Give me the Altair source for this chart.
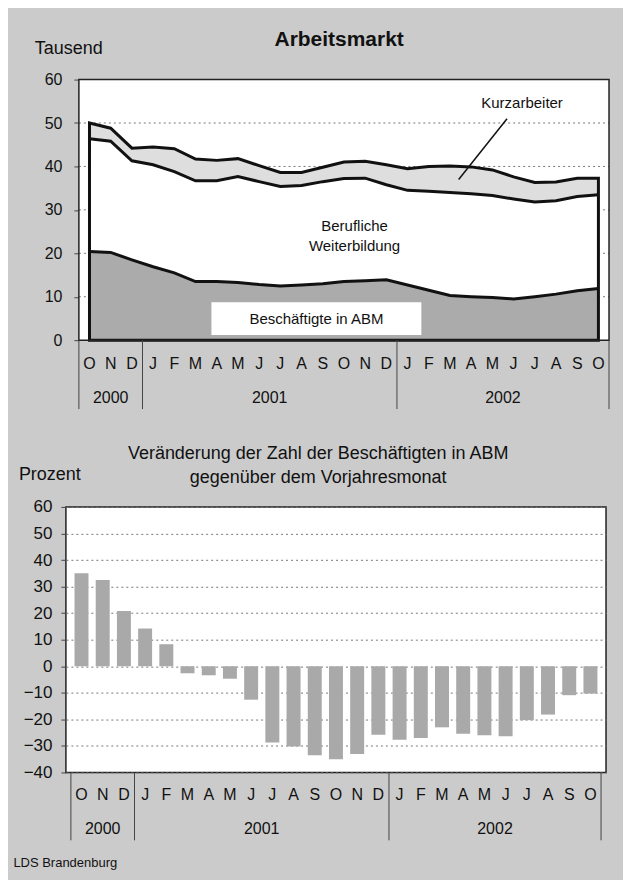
import altair as alt
import pandas as pd

# ---------------- data ----------------
months = ["O", "N", "D", "J", "F", "M", "A", "M", "J", "J", "A", "S",
          "O", "N", "D", "J", "F", "M", "A", "M", "J", "J", "A", "S", "O"]
years = ["2000", "2001", "2002"]
months_per_year = [3, 12, 10]

# Tausend
abm = [20.4, 20.2, 18.5, 16.9, 15.5, 13.5, 13.5, 13.3, 12.8, 12.5, 12.7, 13.0,
       13.5, 13.7, 13.9, 12.7, 11.5, 10.3, 10.0, 9.8, 9.5, 10.0, 10.6, 11.4, 11.9]
weiterbildung = [26.0, 25.6, 22.8, 23.5, 23.3, 23.2, 23.2, 24.4, 23.7, 22.9, 22.9, 23.5,
                 23.7, 23.6, 21.9, 21.8, 22.8, 23.7, 23.7, 23.5, 23.0, 21.8, 21.5, 21.7, 21.6]
kurzarbeiter = [3.6, 3.0, 2.9, 4.1, 5.3, 5.0, 4.7, 4.1, 3.7, 3.2, 3.0, 3.3,
                3.8, 3.9, 4.6, 5.0, 5.7, 6.1, 6.2, 5.9, 5.1, 4.5, 4.3, 4.2, 3.8]

# Prozent gegenüber Vorjahresmonat
abm_change = [35.0, 32.5, 20.8, 14.2, 8.3, -2.6, -3.4, -4.7, -12.6, -28.7, -30.2, -33.5,
              -35.0, -33.0, -25.8, -27.7, -27.0, -23.0, -25.4, -26.0, -26.4, -20.3, -18.2, -10.9, -10.3]

top_ticks = [0, 10, 20, 30, 40, 50, 60]
bottom_ticks = [-40, -30, -20, -10, 0, 10, 20, 30, 40, 50, 60]

# ---------------- tables ----------------
idx = list(range(len(months)))
top_df = pd.DataFrame({"idx": idx, "month": months, "abm": abm,
                       "weiter": weiterbildung, "kurz": kurzarbeiter})
top_df["mid"] = top_df["abm"] + top_df["weiter"]
top_df["total"] = top_df["mid"] + top_df["kurz"]

bot_df = pd.DataFrame({"idx": idx, "month": months, "change": abm_change})

bounds = [-0.5]
for n in months_per_year:
    bounds.append(bounds[-1] + n)
year_df = pd.DataFrame({"year": years,
                        "center": [(a + b) / 2 for a, b in zip(bounds[:-1], bounds[1:])]})
sep_df = pd.DataFrame({"pos": bounds})

# plot frame and grid of the upper panel, in data coordinates
frame_df = pd.DataFrame({"x1": [bounds[0]], "x2": [bounds[-1]],
                         "y1": [top_ticks[0]], "y2": [top_ticks[-1]]})
grid_df = pd.DataFrame({"g": top_ticks[1:-1], "x1": bounds[0], "x2": bounds[-1]})

# annotations (data coordinates)
label_df = pd.DataFrame({
    "label": ["Kurzarbeiter", "Berufliche", "Weiterbildung", "Beschäftigte in ABM"],
    "lx": [20.4, 12.5, 12.5, 10.7],
    "ly": [54.6, 26.4, 21.7, 4.9],
})
box_df = pd.DataFrame({"x1": [5.75], "x2": [15.65], "y1": [1.2], "y2": [8.75]})
pointer_df = pd.DataFrame({"x1": [19.69], "x2": [17.41], "y1": [50.97], "y2": [37.0]})

# ---------------- styles ----------------
FONT = "Liberation Sans"
BG = "#cbcbcb"
KURZ_FILL = "#dedede"
ABM_FILL = "#ababab"
BAR_FILL = "#a9a9a9"
INK = "#111111"
FRAME = "#222222"

SHIFT = 13            # upper plot frame starts this far right of the lower one
W_T, H_T = 544, 261   # upper panel group (frame spans SHIFT..W_T)
W_B, H_B = 541, 266

xscale_top = alt.Scale(domain=[bounds[0], bounds[-1]], range=[SHIFT, W_T], nice=False, zero=False)
xscale_bot = alt.Scale(domain=[bounds[0], bounds[-1]], nice=False, zero=False)


def XT(field):
    return alt.X(f"{field}:Q", scale=xscale_top, axis=None)


def XB(field):
    return alt.X(f"{field}:Q", scale=xscale_bot, axis=None)


top_axis = alt.Axis(values=top_ticks, title="Tausend", titleAngle=0, titleAlign="left",
                    titleBaseline="middle", titleX=-44.6, titleY=-31, titleFontSize=18,
                    titleFontWeight="normal", titleColor=INK, labelFontSize=16,
                    labelColor=INK, labelPadding=12, tickSize=5, tickColor="#444",
                    domain=False, grid=False, offset=-SHIFT)
top_yscale = alt.Scale(domain=[0, 60], nice=False, zero=True)


def YT(field):
    return alt.Y(f"{field}:Q", scale=top_yscale, axis=top_axis)


frame_fill = alt.Chart(frame_df).mark_rect(color="white").encode(
    x=XT("x1"), x2="x2:Q", y=YT("y1"), y2="y2:Q")
grid = alt.Chart(grid_df).mark_rule(color="#777", strokeDash=[2, 3], strokeWidth=1).encode(
    x=XT("x1"), x2="x2:Q", y=YT("g"))
tbase = alt.Chart(top_df)
kurz_area = tbase.mark_area(color=KURZ_FILL, opacity=1).encode(x=XT("idx"), y=YT("total"))
weiter_area = tbase.mark_area(color="white", opacity=1).encode(x=XT("idx"), y=YT("mid"))
abm_area = tbase.mark_area(color=ABM_FILL, opacity=1).encode(x=XT("idx"), y=YT("abm"))
box = alt.Chart(box_df).mark_rect(color="white").encode(
    x=XT("x1"), x2="x2:Q", y=YT("y1"), y2="y2:Q")
mid_line = tbase.mark_line(color=INK, strokeWidth=3).encode(x=XT("idx"), y=YT("mid"))
abm_line = tbase.mark_line(color=INK, strokeWidth=3).encode(x=XT("idx"), y=YT("abm"))
outline = tbase.mark_area(fill="white", fillOpacity=0, stroke=INK, strokeWidth=3).encode(
    x=XT("idx"), y=YT("total"))
labels = alt.Chart(label_df).mark_text(fontSize=15, color=INK, baseline="middle").encode(
    x=XT("lx"), y=YT("ly"), text="label:N")
pointer = alt.Chart(pointer_df).mark_rule(color=INK, strokeWidth=1.5).encode(
    x=XT("x1"), x2="x2:Q", y=YT("y1"), y2="y2:Q")
frame_line = alt.Chart(frame_df).mark_rect(fill="white", fillOpacity=0, stroke=FRAME,
                                           strokeWidth=1.5).encode(
    x=XT("x1"), x2="x2:Q", y=YT("y1"), y2="y2:Q")

t_months = tbase.mark_text(fontSize=16, color=INK, baseline="middle").encode(
    x=XT("idx"), y=alt.value(H_T + 24), text="month:N")
t_years = alt.Chart(year_df).mark_text(fontSize=16, color=INK, baseline="middle").encode(
    x=XT("center"), y=alt.value(H_T + 58), text="year:N")
t_seps = alt.Chart(sep_df).mark_rule(color="#444", strokeWidth=1).encode(
    x=XT("pos"), y=alt.value(H_T), y2=alt.value(H_T + 69))
t_title = alt.Chart(pd.DataFrame({"t": ["Arbeitsmarkt"]})).mark_text(
    fontSize=21, fontWeight="bold", color=INK, baseline="middle", align="center").encode(
    x=alt.value(SHIFT + 260.7), y=alt.value(-39.3), text="t:N")

top = alt.layer(frame_fill, grid, kurz_area, weiter_area, abm_area, box, mid_line, abm_line,
                outline, labels, pointer, frame_line, t_months, t_years, t_seps,
                t_title).properties(
    width=W_T, height=H_T,
    view=alt.ViewBackground(stroke="transparent", fill="transparent"))

# ---------------- bottom chart ----------------
bot_axis = alt.Axis(values=bottom_ticks, title="Prozent", titleAngle=0, titleAlign="left",
                    titleBaseline="middle", titleX=-47.6, titleY=-32, titleFontSize=18,
                    titleFontWeight="normal", titleColor=INK, labelFontSize=17,
                    labelColor=INK, labelPadding=9, tickSize=5, tickColor="#444",
                    domain=False, grid=True, gridColor="#777", gridDash=[2, 3],
                    gridWidth=1)
bot_yscale = alt.Scale(domain=[-40, 60], nice=False, zero=True)

bbase = alt.Chart(bot_df)
bars = bbase.mark_bar(size=14, color=BAR_FILL, orient="vertical").encode(
    x=XB("idx"), y=alt.Y("change:Q", scale=bot_yscale, axis=bot_axis))
b_months = bbase.mark_text(fontSize=16, color=INK, baseline="middle").encode(
    x=XB("idx"), y=alt.value(H_B + 23), text="month:N")
b_years = alt.Chart(year_df).mark_text(fontSize=16, color=INK, baseline="middle").encode(
    x=XB("center"), y=alt.value(H_B + 57), text="year:N")
b_seps = alt.Chart(sep_df).mark_rule(color="#444", strokeWidth=1).encode(
    x=XB("pos"), y=alt.value(H_B), y2=alt.value(H_B + 68))
b_title1 = alt.Chart(pd.DataFrame({"t": ["Veränderung der Zahl der Beschäftigten in ABM"]})).mark_text(
    fontSize=18, color=INK, baseline="middle", align="center").encode(
    x=alt.value(252.7), y=alt.value(-53), text="t:N")
b_title2 = alt.Chart(pd.DataFrame({"t": ["gegenüber dem Vorjahresmonat"]})).mark_text(
    fontSize=18, color=INK, baseline="middle", align="center").encode(
    x=alt.value(252.7), y=alt.value(-29), text="t:N")
b_source = alt.Chart(pd.DataFrame({"t": ["LDS Brandenburg"]})).mark_text(
    fontSize=13, color=INK, baseline="middle", align="left").encode(
    x=alt.value(-52.6), y=alt.value(H_B + 91), text="t:N")

bottom = alt.layer(bars, b_months, b_years, b_seps, b_title1, b_title2, b_source).properties(
    width=W_B, height=H_B)

chart = alt.concat(top, bottom, columns=1, spacing=33).properties(
    padding={"left": 4, "top": 19, "right": 12, "bottom": 8},
    background=BG,
).configure(font=FONT).configure_view(stroke=FRAME, strokeWidth=1.5, fill="white")

chart.save("out.html", embed_options={"renderer": "svg", "actions": False})
